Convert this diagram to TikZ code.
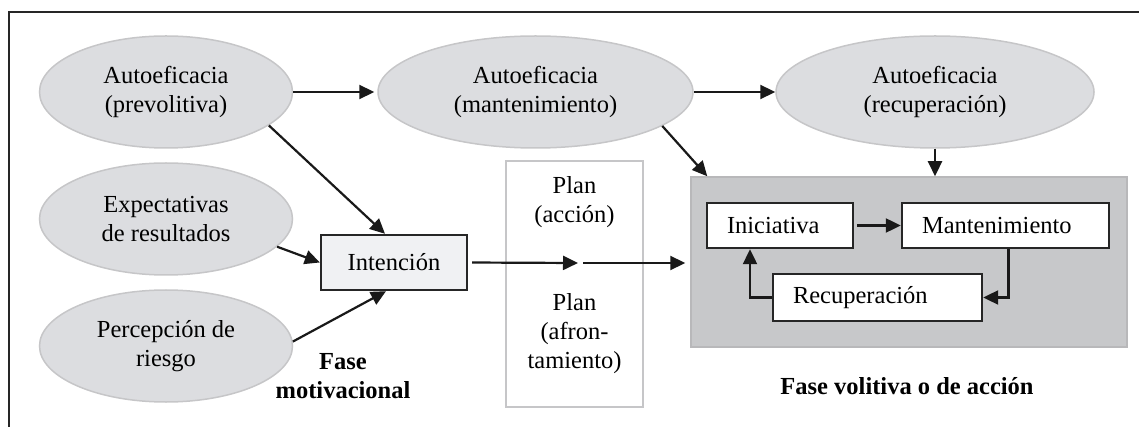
\documentclass[tikz,border=0pt]{standalone}
\usepackage{fontspec}
\setmainfont{Liberation Serif}
\usetikzlibrary{shapes.geometric, arrows.meta, positioning}
\definecolor{bubblefill}{RGB}{220,221,224}
\definecolor{bubbleline}{RGB}{198,198,200}
\definecolor{phasefill}{RGB}{199,200,202}
\definecolor{phaseline}{RGB}{184,184,186}
\definecolor{intentfill}{RGB}{240,241,243}

\begin{document}
\begin{tikzpicture}[x=1pt, y=-1pt, >={Triangle[length=15pt,width=14pt]},
    every node/.style={font=\fontsize{24.5}{29}\selectfont, align=center},
    bubble/.style={ellipse, draw=bubbleline, fill=bubblefill, line width=1.5pt,
      minimum height=112pt, inner sep=0pt},
    box/.style={rectangle, draw=black!85, line width=2.4pt, fill=white, align=left,
      inner xsep=20pt, inner ysep=0pt, minimum height=45pt},
    link/.style={->, line width=2.2pt, draw=black!90},
    phase/.style={font=\fontsize{24.5}{29}\selectfont\bfseries}]
  \useasboundingbox (0,0) rectangle (1139,427);
  \draw[line width=1.8pt, black!85] (9,427) -- (9,12) -- (1139,12);

  % motivational phase
  \node[bubble, minimum width=253pt] (prevol) at (166,92) {Autoeficacia\\(prevolitiva)};
  \node[bubble, minimum width=253pt] (expect) at (166,219) {Expectativas\\de resultados};
  \node[bubble, minimum width=253pt] (risk) at (166,346) {Percepción de\\riesgo};
  \node[rectangle, draw=black!85, fill=intentfill, line width=2.4pt, minimum width=146pt,
    minimum height=55pt] (intent) at (394,262.5) {Intención};
  \node[phase] (motiv) at (343,376) {Fase\\motivacional};

  % plans
  \node[rectangle, draw=bubbleline, fill=white, line width=2.2pt, minimum width=137pt,
    minimum height=246pt] (plan) at (574.5,284) {};
  \node (planact) at (574.5,202) {Plan\\(acción)};
  \node (plancope) at (574.5,334) {Plan\\(afron-\\tamiento)};
  \coordinate (gapin) at (578,263);
  \coordinate (gapout) at (583,263);

  % volitional phase
  \node[bubble, minimum width=315pt] (mant) at (535.5,92) {Autoeficacia\\(mantenimiento)};
  \node[bubble, minimum width=318pt] (recup) at (935,92) {Autoeficacia\\(recuperación)};
  \node[rectangle, draw=phaseline, fill=phasefill, line width=1.5pt, minimum width=436pt,
    minimum height=170pt] (volit) at (909,262) {};
  \node[box, text width=106pt] (ini) at (780,225.5) {Iniciativa};
  \node[box, text width=167pt] (man) at (1005.5,225.5) {Mantenimiento};
  \node[box, text width=169pt, minimum height=47pt] (rec) at (877.5,297.5) {Recuperación};
  \node[phase] (volitlabel) at (907,386) {Fase volitiva o de acción};

  \draw[link, shorten >=3pt] (prevol.east) -- (mant.west);
  \draw[link] (mant.east) -- (recup.west);
  \draw[link] (prevol.-18) -- ([xshift=-9pt]intent.north);
  \draw[link] (expect.-14) -- (intent.west);
  \draw[link] (risk.2) -- ([xshift=-8pt]intent.south);
  \draw[link, shorten <=4pt] (intent.east) -- (gapin);
  \draw[link, shorten >=5pt] (gapout) -- (volit.west |- gapout);
  \draw[link] (mant.-15) -- ([xshift=17pt]volit.north west);
  \draw[link] (recup.south) -- (recup.south |- volit.north);
  \draw[link, shorten <=3pt] (ini.east) -- (man.west);
  \draw[link] ([xshift=3pt]man.south) |- (rec.east);
  \draw[link] (rec.west) -| ([xshift=-30pt]ini.south);
\end{tikzpicture}
\end{document}
